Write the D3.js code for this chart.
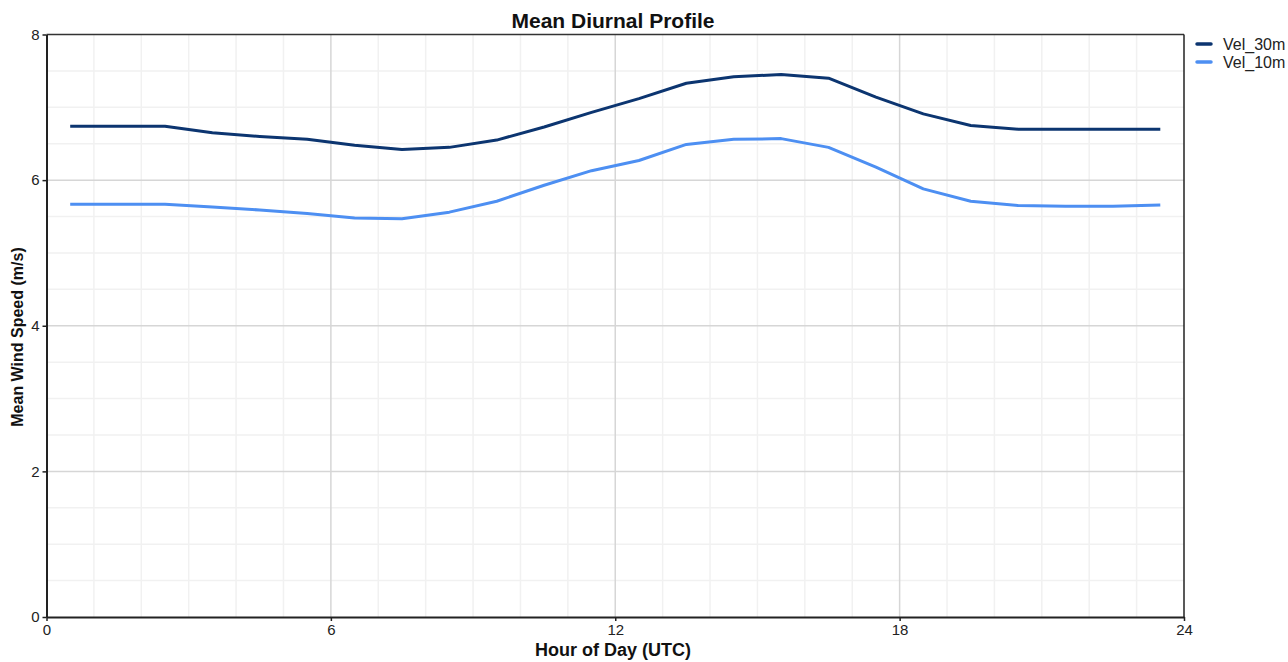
<!DOCTYPE html>
<html>
<head>
<meta charset="utf-8">
<script src="https://cdn.jsdelivr.net/npm/d3@7"></script>
<style>
  html, body { margin: 0; padding: 0; background: #fff; }
  svg { display: block; font-family: "Liberation Sans", Arial, sans-serif; }
</style>
</head>
<body>
<svg id="chart" width="1288" height="662"></svg>
<script>
// Hourly mean wind speed (m/s), plotted at the middle of each hour
const hours = d3.range(24).map(h => h + 0.5);
const vel30m = [6.74, 6.74, 6.74, 6.65, 6.60, 6.56, 6.48, 6.42, 6.45, 6.55, 6.73, 6.93,
                7.12, 7.33, 7.42, 7.45, 7.40, 7.14, 6.91, 6.75, 6.70, 6.70, 6.70, 6.70];
const vel10m = [5.67, 5.67, 5.67, 5.63, 5.59, 5.54, 5.48, 5.47, 5.56, 5.71, 5.93, 6.13,
                6.27, 6.49, 6.56, 6.57, 6.45, 6.18, 5.88, 5.71, 5.65, 5.64, 5.64, 5.66];
const seriesNames = ["Vel_30m", "Vel_10m"];
const seriesColors = ["#0c3570", "#4d8ff2"];
const xTicks = [0, 6, 12, 18, 24];
const yTicks = [0, 2, 4, 6, 8];

const svg = d3.select("#chart");
const plot = { left: 46.5, right: 1184, top: 34.5, bottom: 617 };

const x = d3.scaleLinear().domain([0, 24]).range([plot.left, plot.right]);
const y = d3.scaleLinear().domain([0, 8]).range([plot.bottom, plot.top]);

// Minor grid: every hour and every 0.5 m/s
const g = svg.append("g");
g.selectAll(".vminor").data(d3.range(1, 24).filter(h => h % 6 !== 0)).join("line")
  .attr("x1", d => x(d)).attr("x2", d => x(d))
  .attr("y1", plot.top).attr("y2", plot.bottom)
  .attr("stroke", "#f1f1f1").attr("stroke-width", 1.5);
g.selectAll(".hminor").data(d3.range(0.5, 8, 0.5).filter(v => v % 2 !== 0)).join("line")
  .attr("x1", plot.left).attr("x2", plot.right)
  .attr("y1", d => y(d)).attr("y2", d => y(d))
  .attr("stroke", "#f1f1f1").attr("stroke-width", 1.5);
// Major grid
g.selectAll(".vmajor").data([6, 12, 18]).join("line")
  .attr("x1", d => x(d)).attr("x2", d => x(d))
  .attr("y1", plot.top).attr("y2", plot.bottom)
  .attr("stroke", "#d6d6d6").attr("stroke-width", 1.5);
g.selectAll(".hmajor").data([2, 4, 6]).join("line")
  .attr("x1", plot.left).attr("x2", plot.right)
  .attr("y1", d => y(d)).attr("y2", d => y(d))
  .attr("stroke", "#d6d6d6").attr("stroke-width", 1.5);

// Series lines
const line = d3.line().x((d, i) => x(hours[i])).y(d => y(d));
[vel30m, vel10m].forEach((vals, i) => {
  svg.append("path").datum(vals)
    .attr("d", line)
    .attr("fill", "none")
    .attr("stroke", seriesColors[i])
    .attr("stroke-width", 3)
    .attr("stroke-linejoin", "round");
});

// Frame
svg.append("line").attr("x1", plot.left).attr("x2", plot.right)
  .attr("y1", plot.top).attr("y2", plot.top).attr("stroke", "#333").attr("stroke-width", 1.5);
svg.append("line").attr("x1", plot.right).attr("x2", plot.right)
  .attr("y1", plot.top).attr("y2", plot.bottom).attr("stroke", "#222").attr("stroke-width", 1.5);

// Axes
const xAxis = svg.append("g").attr("transform", `translate(0,${plot.bottom})`)
  .call(d3.axisBottom(x).tickValues(xTicks).tickSize(4).tickPadding(3).tickSizeOuter(0));
const yAxis = svg.append("g").attr("transform", `translate(${plot.left},0)`)
  .call(d3.axisLeft(y).tickValues(yTicks).tickSize(4).tickPadding(3).tickSizeOuter(0));
[xAxis, yAxis].forEach(a => {
  a.select(".domain").attr("stroke", "#222").attr("stroke-width", 2);
  a.selectAll(".tick line").attr("stroke", "#222").attr("stroke-width", 1.5);
  a.selectAll(".tick text").attr("fill", "#222")
    .style("font-family", '"Liberation Sans", Arial, sans-serif').style("font-size", "15px");
});

// Titles
svg.append("text").attr("x", 613).attr("y", 28).attr("text-anchor", "middle")
  .style("font-size", "21px").style("font-weight", "bold").attr("fill", "#111")
  .text("Mean Diurnal Profile");
svg.append("text").attr("x", 613).attr("y", 656).attr("text-anchor", "middle")
  .style("font-size", "18px").style("font-weight", "bold").attr("fill", "#111")
  .text("Hour of Day (UTC)");
svg.append("text").attr("transform", "translate(23,337) rotate(-90)").attr("text-anchor", "middle")
  .style("font-size", "16px").style("font-weight", "bold").attr("fill", "#111")
  .text("Mean Wind Speed (m/s)");

// Legend
const legend = svg.append("g");
seriesNames.forEach((name, i) => {
  const ly = 44 + i * 18;
  legend.append("line").attr("x1", 1197).attr("x2", 1211).attr("y1", ly).attr("y2", ly)
    .attr("stroke", seriesColors[i]).attr("stroke-width", 3.5).attr("stroke-linecap", "round");
  legend.append("text").attr("x", 1223).attr("y", ly + 5.5)
    .style("font-size", "16px").attr("fill", "#222").text(name);
});
</script>
</body>
</html>
